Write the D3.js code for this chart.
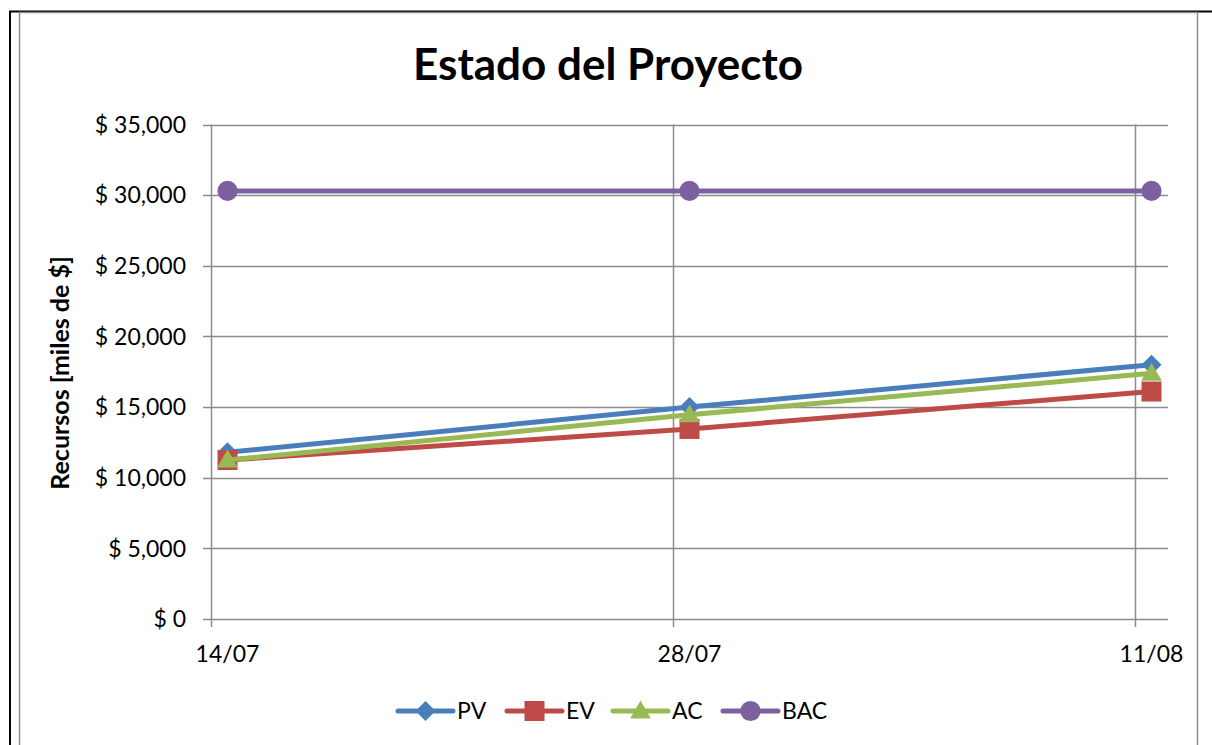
<!DOCTYPE html>
<html>
<head>
<meta charset="utf-8">
<script src="https://cdn.jsdelivr.net/npm/d3@7"></script>
<style>
  html, body { margin: 0; padding: 0; background: #fff; }
  svg { display: block; }
  text { font-family: Lato, "Open Sans", sans-serif; fill: #000; }
</style>
</head>
<body>
<svg id="chart" width="1212" height="745"></svg>
<script>
// ---- data ----
const dates = ["2011-07-14", "2011-07-28", "2011-08-11"];
const dateLabels = ["14/07", "28/07", "11/08"];
const PV = [11800, 15000, 18000];
const EV = [11250, 13450, 16100];
const AC = [11250, 14450, 17400];
const BAC = [30300, 30300, 30300];
const seriesNames = ["PV", "EV", "AC", "BAC"];
const yTicks = [0, 5000, 10000, 15000, 20000, 25000, 30000, 35000];

const colors = { PV: "#4A7EBB", EV: "#BE4B48", AC: "#98B954", BAC: "#7D60A0" };
const values = { PV, EV, AC, BAC };

const svg = d3.select("#chart");
const parse = d3.utcParse("%Y-%m-%d");
const dts = dates.map(parse);
const HALF = 12 * 3600 * 1000;
const DAY = 24 * 3600 * 1000;

const plot = { left: 211, right: 1168, top: 124.5, bottom: 619 };

const x = d3.scaleUtc()
  .domain([new Date(+dts[0] - HALF), new Date(+dts[2] + HALF)])
  .range([plot.left, plot.right]);
const y = d3.scaleLinear().domain([0, 35000]).range([plot.bottom, plot.top]);

// marker shapes
const markerDefs = {
  PV: { type: d3.symbolSquare, size: 200, rotate: 45, dy: 0 },
  EV: { type: d3.symbolSquare, size: 400, rotate: 0, dy: 0 },
  AC: { type: d3.symbolTriangle, size: 185, rotate: 0, dy: 1.5 },
  BAC: { type: d3.symbolCircle, size: 320, rotate: 0, dy: 0 }
};
function markerPath(name) {
  const m = markerDefs[name];
  return d3.symbol().type(m.type).size(m.size)();
}

// frames
svg.append("line").attr("x1", 9).attr("x2", 1212).attr("y1", 11.5).attr("y2", 11.5)
  .attr("stroke", "#000").attr("stroke-width", 2);
svg.append("line").attr("x1", 10).attr("x2", 10).attr("y1", 11).attr("y2", 745)
  .attr("stroke", "#000").attr("stroke-width", 2);
svg.append("rect").attr("x", 19.5).attr("y", 12.5).attr("width", 1178).attr("height", 760)
  .attr("fill", "none").attr("stroke", "#8c8c8c").attr("stroke-width", 1.5);

const gridColor = "#8c8c8c";

// horizontal gridlines + y tick marks
svg.append("g").selectAll("line").data(yTicks).join("line")
  .attr("x1", plot.left - 8).attr("x2", plot.right)
  .attr("y1", d => Math.round(y(d)) + 0.5).attr("y2", d => Math.round(y(d)) + 0.5)
  .attr("stroke", gridColor).attr("stroke-width", 1.5);

// vertical gridlines (every 14 days from the axis start)
const gridDates = [0, 14, 28].map(k => new Date(+x.domain()[0] + k * DAY));
svg.append("g").selectAll("line").data(gridDates).join("line")
  .attr("x1", d => Math.round(x(d)) + 0.5).attr("x2", d => Math.round(x(d)) + 0.5)
  .attr("y1", plot.top).attr("y2", plot.bottom + 8)
  .attr("stroke", gridColor).attr("stroke-width", 1.5);

// y tick labels
svg.append("g").selectAll("text").data(yTicks).join("text")
  .attr("x", 186).attr("y", d => y(d)).attr("dy", "0.36em")
  .attr("text-anchor", "end").attr("font-size", 23)
  .text(d => "$ " + d3.format(",")(d));

// x tick labels
svg.append("g").selectAll("text").data(dts).join("text")
  .attr("x", d => x(d)).attr("y", 662)
  .attr("text-anchor", "middle").attr("font-size", 23)
  .text((d, i) => dateLabels[i]);

// y axis title
svg.append("text")
  .attr("transform", "translate(69,373) rotate(-90)")
  .attr("text-anchor", "middle").attr("font-size", 25).attr("font-weight", "bold")
  .text("Recursos [miles de $]");

// title
svg.append("text").attr("x", 608).attr("y", 80)
  .attr("text-anchor", "middle").attr("font-size", 44).attr("font-weight", "bold")
  .text("Estado del Proyecto");

// series
const line = d3.line().x((d, i) => x(dts[i])).y(d => y(d));
seriesNames.forEach(name => {
  const g = svg.append("g");
  const m = markerDefs[name];
  g.append("path").attr("d", line(values[name]))
    .attr("fill", "none").attr("stroke", colors[name]).attr("stroke-width", 5)
    .attr("stroke-linejoin", "round").attr("stroke-linecap", "round");
  g.selectAll("path.m").data(values[name]).join("path").attr("class", "m")
    .attr("transform", (d, i) => `translate(${x(dts[i])},${y(d) + m.dy}) rotate(${m.rotate})`)
    .attr("d", markerPath(name))
    .attr("fill", colors[name]);
});

// legend
const legendX = { PV: 398, EV: 507, AC: 613, BAC: 723 };
const ly = 711;
seriesNames.forEach(name => {
  const g = svg.append("g");
  const m = markerDefs[name];
  const x0 = legendX[name];
  g.append("line").attr("x1", x0).attr("x2", x0 + 55).attr("y1", ly).attr("y2", ly)
    .attr("stroke", colors[name]).attr("stroke-width", 5).attr("stroke-linecap", "round");
  g.append("path").attr("transform", `translate(${x0 + 27.5},${ly + m.dy}) rotate(${m.rotate})`)
    .attr("d", markerPath(name))
    .attr("fill", colors[name]);
  g.append("text").attr("x", x0 + 59).attr("y", ly).attr("dy", "0.36em")
    .attr("font-size", 23).text(name);
});
</script>
</body>
</html>
